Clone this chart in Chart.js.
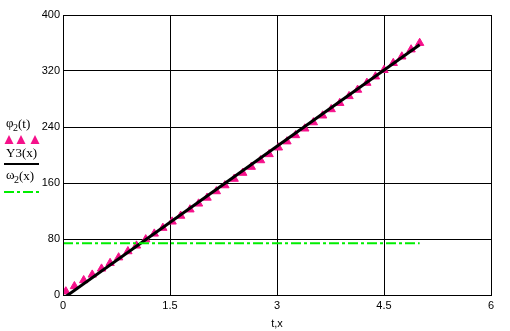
<!DOCTYPE html>
<html>
<head>
<meta charset="utf-8">
<script src="https://cdn.jsdelivr.net/npm/chart.js@4/dist/chart.umd.min.js"></script>
<style>
html,body{margin:0;padding:0;background:#fff;}
#wrap{position:relative;width:510px;height:331px;}
canvas{display:block;}
</style>
</head>
<body>
<div id="wrap"><canvas id="c" width="510" height="331"></canvas></div>
<script>
// ---- data ----
const phiT = [0.04,0.16,0.29,0.41,0.54,0.66,0.78,0.91,1.03,1.16,1.28,1.40,1.53,1.65,1.78,1.90,2.02,2.15,2.27,2.40,2.52,2.64,2.77,2.89,3.02,3.14,3.26,3.39,3.51,3.64,3.76,3.88,4.01,4.13,4.26,4.38,4.50,4.63,4.75,4.88,5.00];
const phiValues = [5,12.5,21,29,37.6,45.6,53.6,62.4,70.5,79.4,87.6,95.8,104.8,113.1,122.1,130.5,138.9,148.1,156.6,165.9,174.4,183,192.4,201.1,210.6,219.3,228.2,237.7,246.6,256.3,265.3,274.2,284,293.1,303,312.1,321.3,331.3,340.6,350.7,360];
const y3X = [0,5];
const y3Values = [-5,357.5];
const omegaX = [0,5];
const omegaValues = [74,74];
const xTicks = [0,1.5,3,4.5,6];
const yTicks = [0,80,160,240,320,400];
const xTitle = 't,x';

const toPts = (xs, ys) => xs.map((x, i) => ({x: x, y: ys[i]}));

const PINK = '#f5108a';
const GREEN = '#00ee00';

const legendPlugin = {
  id: 'sideLegend',
  afterDraw(chart) {
    const ctx = chart.ctx;
    ctx.save();
    ctx.fillStyle = '#000';
    ctx.textBaseline = 'alphabetic';
    ctx.textAlign = 'left';
    // φ2(t)
    ctx.font = '13px "Liberation Serif", serif';
    ctx.fillText('\u03C6', 6, 127);
    ctx.font = '10px "Liberation Serif", serif';
    ctx.fillText('2', 13, 131);
    ctx.font = '13px "Liberation Serif", serif';
    ctx.fillText('(t)', 18, 128);
    // triangles
    ctx.fillStyle = PINK;
    [9, 21, 35].forEach(cx => {
      ctx.beginPath();
      ctx.moveTo(cx, 135);
      ctx.lineTo(cx + 4.5, 144);
      ctx.lineTo(cx - 4.5, 144);
      ctx.closePath();
      ctx.fill();
    });
    // Y3(x)
    ctx.fillStyle = '#000';
    ctx.font = '13px "Liberation Serif", serif';
    ctx.fillText('Y3(x)', 6, 157);
    ctx.strokeStyle = '#000';
    ctx.lineWidth = 2;
    ctx.beginPath();
    ctx.moveTo(4, 164);
    ctx.lineTo(39, 164);
    ctx.stroke();
    // ω2(x)
    ctx.fillText('\u03C9', 6, 179);
    ctx.font = '10px "Liberation Serif", serif';
    ctx.fillText('2', 14, 183);
    ctx.font = '13px "Liberation Serif", serif';
    ctx.fillText('(x)', 19, 180);
    ctx.strokeStyle = GREEN;
    ctx.setLineDash([10, 3, 3, 3]);
    ctx.beginPath();
    ctx.moveTo(4, 192);
    ctx.lineTo(39, 192);
    ctx.stroke();
    ctx.restore();
  }
};

new Chart(document.getElementById('c'), {
  type: 'scatter',
  data: {
    datasets: [
      {
        label: 'φ2(t)',
        data: toPts(phiT, phiValues),
        showLine: false,
        pointStyle: 'triangle',
        pointRadius: 4.8,
        pointBackgroundColor: PINK,
        pointBorderColor: PINK,
        pointBorderWidth: 1,
        order: 3
      },
      {
        label: 'Y3(x)',
        data: toPts(y3X, y3Values),
        showLine: true,
        borderColor: '#000',
        borderWidth: 3,
        pointRadius: 0,
        clip: 0,
        order: 2
      },
      {
        label: 'ω2(x)',
        data: toPts(omegaX, omegaValues),
        showLine: true,
        borderColor: GREEN,
        borderWidth: 2,
        borderDash: [10, 3, 3, 3],
        pointRadius: 0,
        order: 1
      }
    ]
  },
  options: {
    responsive: false,
    animation: false,
    devicePixelRatio: 1,
    layout: { padding: { left: 0, right: 19, top: 15, bottom: 0 } },
    plugins: { legend: { display: false }, tooltip: { enabled: false } },
    scales: {
      x: {
        type: 'linear',
        min: 0, max: 6,
        afterBuildTicks(s) { s.ticks = xTicks.map(v => ({value: v})); },
        afterFit(s) { s.height = 36; },
        grid: { color: '#000', lineWidth: 1, drawTicks: false },
        border: { color: '#000', width: 1 },
        ticks: {
          color: '#000', padding: 4,
          font: { family: '"Liberation Sans", Arial, sans-serif', size: 11 },
          callback: v => String(v)
        },
        title: {
          display: true, text: xTitle, color: '#000',
          font: { family: '"Liberation Sans", Arial, sans-serif', size: 11 },
          padding: { top: 4, bottom: 0 }
        }
      },
      y: {
        type: 'linear',
        min: 0, max: 400,
        afterBuildTicks(s) { s.ticks = yTicks.map(v => ({value: v})); },
        afterFit(s) { s.width = 63; },
        grid: { color: '#000', lineWidth: 1, drawTicks: false },
        border: { color: '#000', width: 1 },
        ticks: {
          color: '#000', padding: 3,
          font: { family: '"Liberation Sans", Arial, sans-serif', size: 11 },
          callback: v => String(v)
        }
      }
    }
  },
  plugins: [legendPlugin, {
    id: 'rightBorder',
    afterDraw(chart) {
      const a = chart.chartArea, ctx = chart.ctx;
      ctx.save();
      ctx.strokeStyle = '#000';
      ctx.lineWidth = 1;
      ctx.strokeRect(Math.round(a.left) + 0.5, Math.round(a.top) + 0.5, Math.round(a.right - a.left), Math.round(a.bottom - a.top));
      ctx.restore();
    }
  }]
});
</script>
</body>
</html>
